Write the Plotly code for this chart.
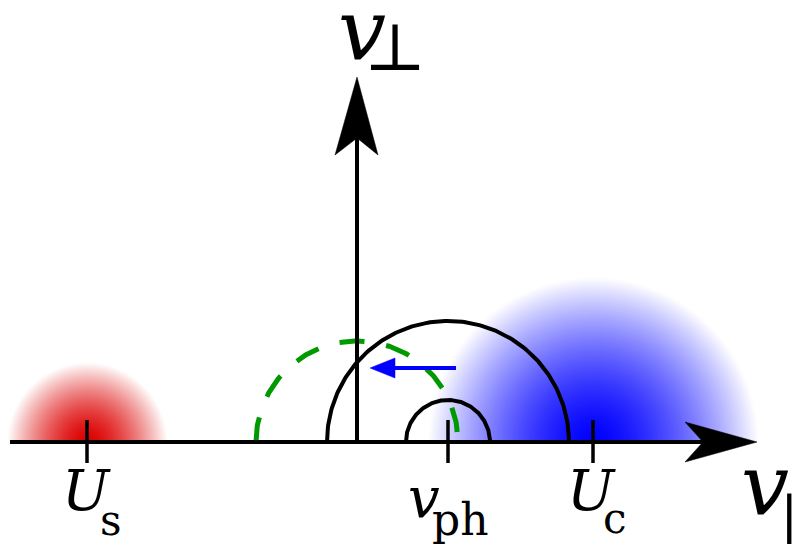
import numpy as np
import plotly.graph_objects as go

# ---- diagram quantities (velocity units, origin at the axes crossing) ----
U_s = -270.0          # slow beam velocity
v_ph = 91.0           # wave phase velocity
U_c = 236.0           # core beam velocity
R_big = 121.0         # large resonance semicircle radius (about v_ph)
R_small = 42.0        # small resonance semicircle radius (about v_ph)
R_green = 101.0       # dashed circle radius (about origin)
R_red = 80.0          # slow beam spread
R_blue = 165.0        # core beam spread
arrow_from = 99.0     # blue arrow start (v_par)
arrow_to = 13.0       # blue arrow tip (v_par)
arrow_level = 74.0    # blue arrow height (v_perp)

X_MIN, X_MAX = -357.0, 448.0
Y_MIN, Y_MAX = -102.0, 442.0

fig = go.Figure()


def blob(cx, r, rgb):
    xs = np.arange(cx - r, cx + r + 1e-9, 2.0)
    ys = np.arange(0.0, r + 1e-9, 2.0)
    X, Y = np.meshgrid(xs, ys)
    d = np.sqrt((X - cx) ** 2 + Y ** 2)
    z = np.clip(1.0 - (d / r) ** 1.5, 0.0, 1.0)
    fig.add_trace(go.Heatmap(
        x=xs, y=ys, z=z, zmin=0, zmax=1, zsmooth="best", showscale=False,
        hoverinfo="skip",
        colorscale=[[0, f"rgba({rgb},0)"], [1, f"rgba({rgb},1)"]],
    ))


blob(U_s, R_red, "220,0,0")
blob(U_c, R_blue, "0,0,255")


def line(xs, ys, color="black", width=4, dash=None):
    fig.add_trace(go.Scatter(x=xs, y=ys, mode="lines", hoverinfo="skip",
                             line=dict(color=color, width=width, dash=dash)))


def poly(xs, ys, color="black"):
    fig.add_trace(go.Scatter(x=xs, y=ys, mode="lines", fill="toself",
                             fillcolor=color, hoverinfo="skip",
                             line=dict(color=color, width=0.5)))


def semicircle(cx, r, **kw):
    t = np.linspace(np.pi, 0, 200)
    line(cx + r * np.cos(t), r * np.sin(t), **kw)


# semicircles
semicircle(v_ph, R_big, width=4)
semicircle(v_ph, R_small, width=4)
semicircle(0.0, R_green, color="#009900", width=5, dash="25px,22px")

# horizontal axis + arrowhead
line([-347, 346], [0, 0], width=4)
poly([400, 328, 346, 328, 400], [0, 20, 0, -20, 0])
# vertical axis + arrowhead
line([0, 0], [0, 304], width=4)
poly([0, -22, 0, 21, 0], [365, 287, 304, 287, 365])

# ticks
for v in (U_s, v_ph, U_c):
    line([v, v], [22, -21], width=3.5)

# blue arrow
line([arrow_from, arrow_to + 20], [arrow_level, arrow_level], color="#0000ff", width=4)
poly([arrow_to, arrow_to + 25, arrow_to + 25, arrow_to],
     [arrow_level, arrow_level + 10, arrow_level - 10, arrow_level], color="#0000ff")

SERIF = "DejaVu Serif"


def txt(x, y, s, size):
    fig.add_annotation(x=x, y=y, text=s, showarrow=False, xanchor="center",
                       yanchor="middle", font=dict(family=SERIF, size=size, color="black"))


txt(5, 413, "<i>v</i>", 85)
txt(38, 395, "⊥", 66)
txt(408, -42, "<i>v</i>", 85)
txt(432, -74, "|", 55)
txt(-271, -48, "<i>U</i>", 56)
txt(-246, -78, "s", 42)
txt(67, -55, "<i>v</i>", 56)
txt(103, -77, "ph", 44)
txt(234, -48, "<i>U</i>", 56)
txt(258, -76, "c", 42)

fig.update_layout(
    width=805, height=544, margin=dict(l=0, r=0, t=0, b=0),
    paper_bgcolor="white", plot_bgcolor="white", showlegend=False,
    xaxis=dict(range=[X_MIN, X_MAX], visible=False, fixedrange=True),
    yaxis=dict(range=[Y_MIN, Y_MAX], visible=False, fixedrange=True),
)

fig.write_html("out.html", config={"displayModeBar": False},
               post_script="document.body.style.margin='0';document.body.style.overflow='hidden';")
